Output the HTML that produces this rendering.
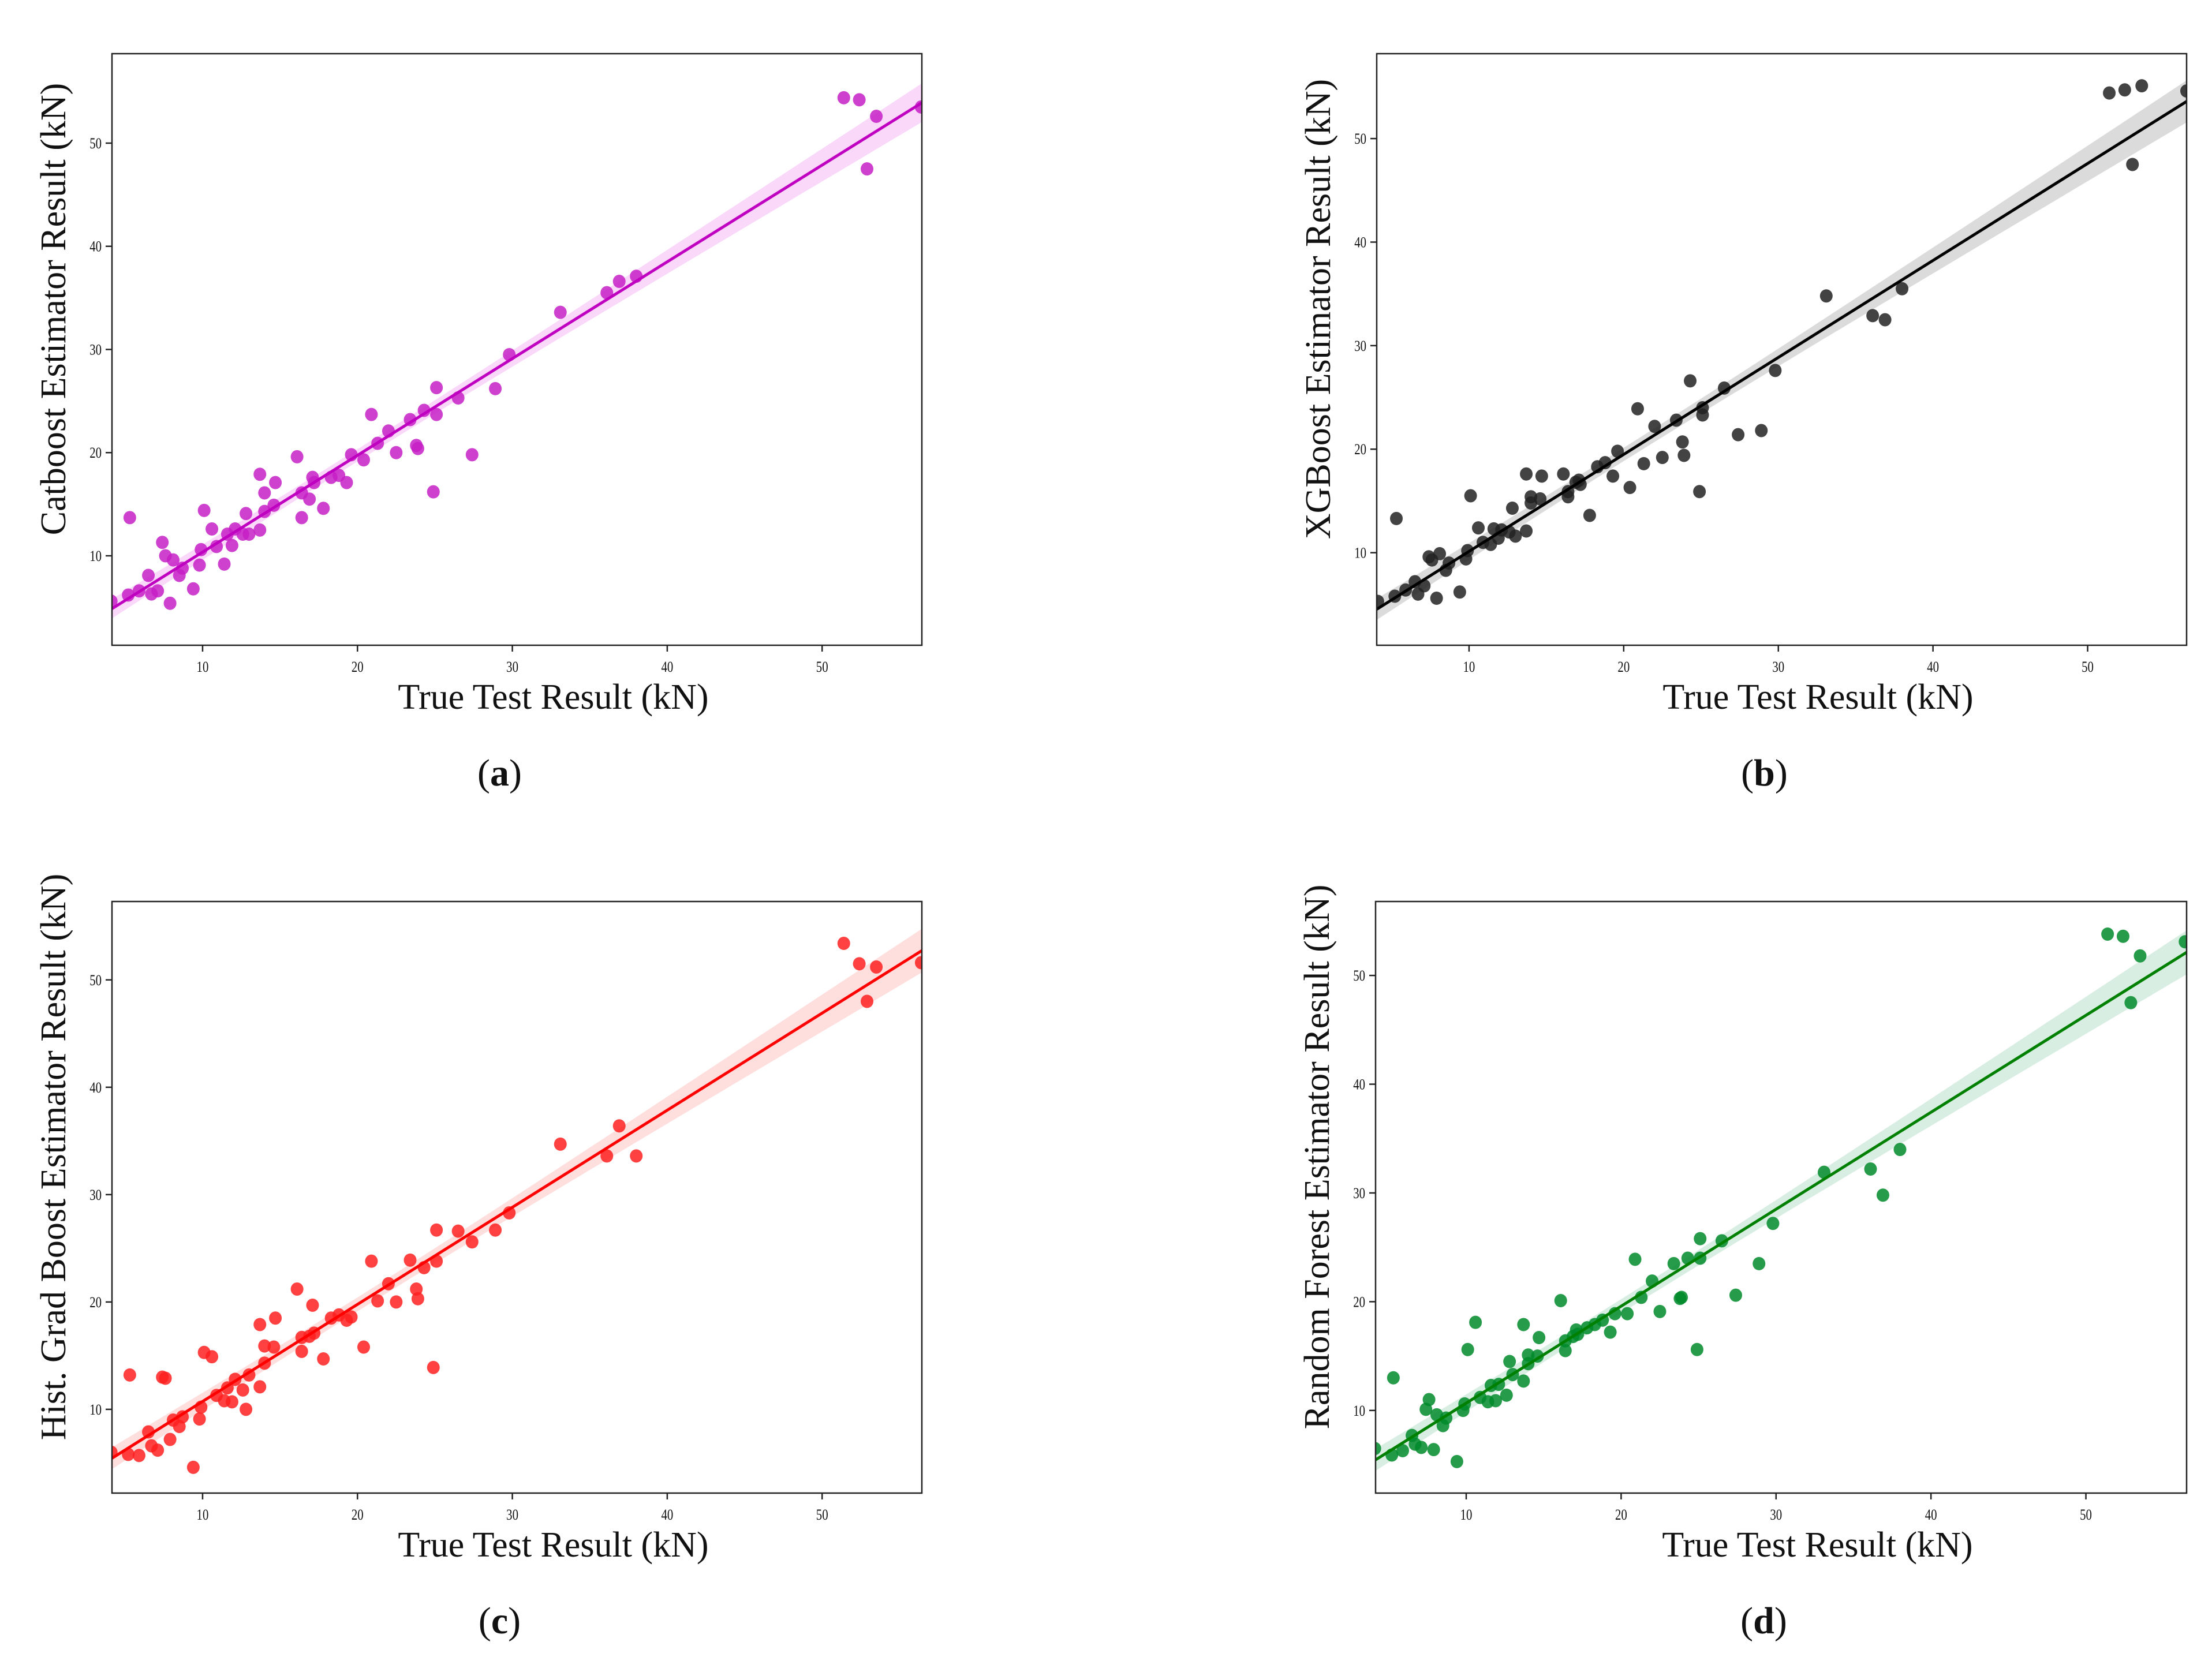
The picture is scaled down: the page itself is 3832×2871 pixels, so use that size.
<!DOCTYPE html>
<html><head><meta charset="utf-8"><style>
html,body{margin:0;padding:0;background:#fff;}
svg{display:block;}
text{font-family:"Liberation Serif",serif;fill:#111;}
</style></head>
<body>
<svg id="fig" width="3832" height="2871" viewBox="0 0 3832 2871" xmlns="http://www.w3.org/2000/svg"></svg>
<script>
const trueVals = [4.1,5.3,5.2,5.9,6.5,6.7,7.1,7.4,7.6,7.9,8.1,8.5,8.7,9.4,9.8,9.9,10.1,10.6,10.9,11.4,11.6,11.9,12.1,12.6,12.8,13.0,13.7,13.7,14.0,14.0,14.7,14.6,16.1,16.4,16.4,16.9,17.1,17.2,17.8,18.3,18.8,19.3,19.6,20.4,20.9,21.3,22.0,22.5,23.4,23.8,23.9,24.3,24.9,25.1,25.1,26.5,27.4,28.9,29.8,33.1,36.1,36.9,38.0,51.4,52.4,52.9,53.5,56.4];
const catboostPred = [5.6,13.7,6.2,6.6,8.1,6.3,6.6,11.3,10.0,5.4,9.6,8.1,8.8,6.8,9.1,10.6,14.4,12.6,10.9,9.2,12.1,11.0,12.6,12.1,14.1,12.1,17.9,12.5,16.1,14.3,17.1,14.9,19.6,13.7,16.1,15.5,17.6,17.1,14.6,17.6,17.8,17.1,19.8,19.3,23.7,20.9,22.1,20.0,23.2,20.7,20.4,24.1,16.2,26.3,23.7,25.3,19.8,26.2,29.5,33.6,35.5,36.6,37.1,54.4,54.2,47.5,52.6,53.5];
const xgboostPred = [5.3,13.3,5.8,6.4,7.2,6.0,6.8,9.6,9.3,5.6,9.9,8.3,9.0,6.2,9.4,10.2,15.5,12.4,11.0,10.8,12.3,11.4,12.2,12.0,14.3,11.6,17.6,12.1,15.4,14.8,17.4,15.2,17.6,15.4,15.9,16.8,17.0,16.6,13.6,18.3,18.7,17.4,19.8,16.3,23.9,18.6,22.2,19.2,22.8,20.7,19.4,26.6,15.9,24.0,23.3,25.9,21.4,21.8,27.6,34.8,32.9,32.5,35.5,54.4,54.7,47.5,55.1,54.6];
const histGradPred = [6.0,13.2,5.8,5.7,7.9,6.6,6.2,13.0,12.9,7.2,9.0,8.4,9.3,4.6,9.1,10.2,15.3,14.9,11.3,10.8,12.0,10.7,12.8,11.8,10.0,13.2,17.9,12.1,15.9,14.3,18.5,15.8,21.2,16.7,15.4,16.8,19.7,17.1,14.7,18.5,18.8,18.3,18.6,15.8,23.8,20.1,21.7,20.0,23.9,21.2,20.3,23.2,13.9,26.7,23.8,26.6,25.6,26.7,28.3,34.7,33.6,36.4,33.6,53.4,51.5,48.0,51.2,51.6];
const randForestPred = [6.5,13.0,5.9,6.3,7.7,6.9,6.6,10.1,11.0,6.4,9.6,8.6,9.3,5.3,10.0,10.6,15.6,18.1,11.2,10.8,12.3,10.9,12.4,11.4,14.5,13.3,17.9,12.7,15.1,14.3,16.7,15.0,20.1,16.4,15.5,16.8,17.4,17.0,17.6,17.9,18.3,17.2,18.9,18.9,23.9,20.4,21.9,19.1,23.5,20.3,20.4,24.0,15.6,25.8,24.0,25.6,20.6,23.5,27.2,31.9,32.2,29.8,34.0,53.8,53.6,47.5,51.8,53.1];
const xTickLabels = [10,20,30,40,50];
const yTickLabels = [10,20,30,40,50];
const yLabels = ["Catboost Estimator Result (kN)","XGBoost Estimator Result (kN)","Hist. Grad Boost Estimator Result (kN)","Random Forest Estimator Result (kN)"];
const captions = ["a","b","c","d"];

const NS="http://www.w3.org/2000/svg";
const svg=document.getElementById('fig');
function mk(tag,attrs,parent){const e=document.createElementNS(NS,tag);for(const k in attrs)e.setAttribute(k,attrs[k]);(parent||svg).appendChild(e);return e;}

const panels=[
 {L:194,T:93,R:1597,B:1118,x0:4.15,x1:56.44,y0:1.33,y1:58.67,ys:catboostPred,pc:"#c61ec6",lc:"#c000c0",bc:"rgba(230,60,230,0.2)",name:"catboost"},
 {L:2385,T:93,R:3788,B:1118,x0:4.03,x1:56.4,y0:1.06,y1:58.2,ys:xgboostPred,pc:"#222",lc:"#000",bc:"rgba(0,0,0,0.14)",name:"xgboost"},
 {L:194,T:1562,R:1597,B:2587,x0:4.15,x1:56.44,y0:2.2,y1:57.3,ys:histGradPred,pc:"#ff2020",lc:"#ff0000",bc:"rgba(255,60,60,0.17)",name:"hist-grad-boost"},
 {L:2383,T:1562,R:3788,B:2587,x0:4.15,x1:56.5,y0:2.4,y1:56.8,ys:randForestPred,pc:"#008a2a",lc:"#008000",bc:"rgba(0,140,60,0.15)",name:"random-forest"}
];

panels.forEach((p,pi)=>{
 const g=mk('g',{});
 
 
 const sx=v=>p.L+(v-p.x0)/(p.x1-p.x0)*(p.R-p.L);
 const sy=v=>p.B-(v-p.y0)/(p.y1-p.y0)*(p.B-p.T);
 const cid='clip'+pi;
 const cp=mk('clipPath',{id:cid},g);mk('rect',{x:p.L,y:p.T,width:p.R-p.L,height:p.B-p.T},cp);
 const inner=mk('g',{'clip-path':'url(#'+cid+')'},g);
 const n=trueVals.length;let mx=0,my=0;
 for(let i=0;i<n;i++){mx+=trueVals[i];my+=p.ys[i];}mx/=n;my/=n;
 let sxx=0,sxy=0;for(let i=0;i<n;i++){sxx+=(trueVals[i]-mx)**2;sxy+=(trueVals[i]-mx)*(p.ys[i]-my);}
 const b=sxy/sxx,a=my-b*mx;let sse=0;for(let i=0;i<n;i++)sse+=(p.ys[i]-a-b*trueVals[i])**2;
 const s=Math.sqrt(sse/(n-2));
 const up=[],lo=[];
 for(let k=0;k<=60;k++){const x=p.x0+(p.x1-p.x0)*k/60;const yh=a+b*x;const ci=1.99*s*Math.sqrt(1/n+(x-mx)**2/sxx);
  up.push(sx(x).toFixed(1)+','+sy(yh+ci).toFixed(1));lo.unshift(sx(x).toFixed(1)+','+sy(yh-ci).toFixed(1));}
 const band=mk('polygon',{points:up.concat(lo).join(' '),fill:p.bc},inner);
 
 
 trueVals.forEach((xv,i)=>{
  const c=mk('ellipse',{cx:sx(xv),cy:sy(p.ys[i]),rx:11,ry:11.5,fill:p.pc,'fill-opacity':0.85},inner);
  
  
 });
 const ln=mk('line',{x1:sx(p.x0),y1:sy(a+b*p.x0),x2:sx(p.x1),y2:sy(a+b*p.x1),stroke:p.lc,'stroke-width':5},inner);
 
 
 const fr=mk('rect',{x:p.L,y:p.T,width:p.R-p.L,height:p.B-p.T,fill:'none',stroke:'#222','stroke-width':2.5},g);
 
 
 xTickLabels.forEach(t=>{
  const x=sx(t);mk('line',{x1:x,y1:p.B,x2:x,y2:p.B+11,stroke:'#222','stroke-width':2.5},g);
  const tx=mk('text',{x:x,y:p.B+46,'text-anchor':'middle','font-size':26,transform:`translate(${x},0) scale(0.8,1) translate(${-x},0)`},g);
  tx.textContent=t;
  
  
 });
 yTickLabels.forEach(t=>{
  const y=sy(t);mk('line',{x1:p.L-11,y1:y,x2:p.L,y2:y,stroke:'#222','stroke-width':2.5},g);
  const tx=mk('text',{x:p.L-18,y:y+9,'text-anchor':'end','font-size':26,transform:`translate(${p.L-18},0) scale(0.8,1) translate(${-(p.L-18)},0)`},g);
  tx.textContent=t;
  
  
 });
 const cx=(p.L+p.R)/2, cy=(p.T+p.B)/2-70;
 const xl=mk('text',{x:cx+63,y:p.B+110,'text-anchor':'middle','font-size':62},g);
 xl.textContent='True Test Result (kN)';
 
 
 const yl=mk('text',{x:p.L-81,y:cy,'text-anchor':'middle','font-size':62,transform:`rotate(-90 ${p.L-81} ${cy})`},g);
 yl.textContent=yLabels[pi];
 
 
 const cap=mk('text',{x:cx-30,y:p.B+243,'text-anchor':'middle','font-size':66},g);
 
 
 const t1=mk('tspan',{},cap);t1.textContent='(';
 const t2=mk('tspan',{'font-weight':'bold'},cap);t2.textContent=captions[pi];
 const t3=mk('tspan',{},cap);t3.textContent=')';
});
</script>
</body></html>
